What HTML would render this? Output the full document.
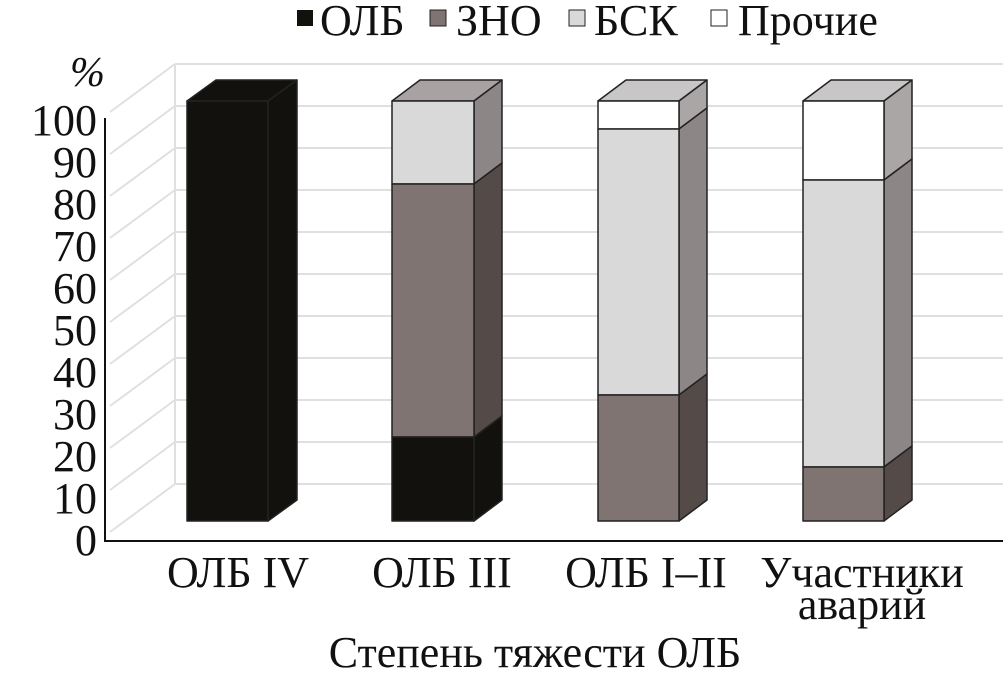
<!DOCTYPE html>
<html><head><meta charset="utf-8"><style>
body{margin:0;background:#fff}
svg text{font-family:"Liberation Serif",serif;fill:#111}
</style></head><body>
<svg width="1003" height="677" viewBox="0 0 1003 677" xmlns="http://www.w3.org/2000/svg">
<g stroke="#e0e0e0" stroke-width="2">
<line x1="175" y1="64" x2="1003" y2="64"/><line x1="175" y1="106" x2="1003" y2="106"/>
<line x1="175" y1="148" x2="1003" y2="148"/><line x1="175" y1="190" x2="1003" y2="190"/>
<line x1="175" y1="232" x2="1003" y2="232"/><line x1="175" y1="274" x2="1003" y2="274"/>
<line x1="175" y1="316" x2="1003" y2="316"/><line x1="175" y1="358" x2="1003" y2="358"/>
<line x1="175" y1="400" x2="1003" y2="400"/><line x1="175" y1="442" x2="1003" y2="442"/>
<line x1="175" y1="484" x2="1003" y2="484"/>
<line x1="175" y1="64" x2="175" y2="484"/>
<line x1="110" y1="112" x2="175" y2="64"/><line x1="110" y1="154" x2="175" y2="106"/>
<line x1="110" y1="196" x2="175" y2="148"/><line x1="110" y1="238" x2="175" y2="190"/>
<line x1="110" y1="280" x2="175" y2="232"/><line x1="110" y1="322" x2="175" y2="274"/>
<line x1="110" y1="364" x2="175" y2="316"/><line x1="110" y1="406" x2="175" y2="358"/>
<line x1="110" y1="448" x2="175" y2="400"/><line x1="110" y1="490" x2="175" y2="442"/>
<line x1="110" y1="532" x2="175" y2="484"/>
</g>
<g stroke="#222" stroke-width="1.5" stroke-linejoin="round">
<polygon points="187,101 268,101 297,80 216,80" fill="#13110d"/>
<polygon points="268,101 297,80 297,500 268,521" fill="#13110d"/>
<rect x="187" y="101" width="81" height="420" fill="#13110d"/>
<polygon points="392,101 474,101 502,80 420,80" fill="#a8a2a2"/>
<polygon points="474,101 502,80 502,163 474,184" fill="#8c8686"/>
<polygon points="474,184 502,163 502,416 474,437" fill="#544b48"/>
<polygon points="474,437 502,416 502,500 474,521" fill="#13110d"/>
<rect x="392" y="101" width="82" height="83" fill="#d9d9d9"/>
<rect x="392" y="184" width="82" height="253" fill="#7f7471"/>
<rect x="392" y="437" width="82" height="84" fill="#13110d"/>
<polygon points="598,101 679,101 707,80 626,80" fill="#c8c6c6"/>
<polygon points="679,101 707,80 707,108 679,129" fill="#aaa6a6"/>
<polygon points="679,129 707,108 707,374 679,395" fill="#8c8686"/>
<polygon points="679,395 707,374 707,500 679,521" fill="#544b48"/>
<rect x="598" y="101" width="81" height="28" fill="#fff"/>
<rect x="598" y="129" width="81" height="266" fill="#d9d9d9"/>
<rect x="598" y="395" width="81" height="126" fill="#7f7471"/>
<polygon points="803,101 884,101 912,80 831,80" fill="#c8c6c6"/>
<polygon points="884,101 912,80 912,159 884,180" fill="#aaa6a6"/>
<polygon points="884,180 912,159 912,446 884,467" fill="#8c8686"/>
<polygon points="884,467 912,446 912,500 884,521" fill="#544b48"/>
<rect x="803" y="101" width="81" height="79" fill="#fff"/>
<rect x="803" y="180" width="81" height="287" fill="#d9d9d9"/>
<rect x="803" y="467" width="81" height="54" fill="#7f7471"/>
</g>
<polyline points="105,118 105,541 1003,541" fill="none" stroke="#111" stroke-width="2"/>
<g font-size="44" text-anchor="end">
<text x="97" y="135">100</text><text x="97" y="177">90</text><text x="97" y="219">80</text>
<text x="97" y="261">70</text><text x="97" y="303">60</text><text x="97" y="345">50</text>
<text x="97" y="387">40</text><text x="97" y="429">30</text><text x="97" y="471">20</text>
<text x="97" y="513">10</text><text x="97" y="555">0</text>
</g>
<text x="70" y="86" font-size="42" font-style="italic">%</text>
<g font-size="44" text-anchor="middle">
<text x="238" y="587">ОЛБ IV</text><text x="442" y="587">ОЛБ III</text>
<text x="646" y="587">ОЛБ I–II</text><text x="862" y="587">Участники</text>
<text x="862" y="619">аварий</text>
<text x="535" y="667">Степень тяжести ОЛБ</text>
</g>
<g font-size="44">
<rect x="297" y="10" width="16" height="16" fill="#13110d"/><text x="320" y="35">ОЛБ</text>
<rect x="430" y="10" width="16" height="16" fill="#7f7471" stroke="#222"/><text x="456" y="35">ЗНО</text>
<rect x="569" y="10" width="16" height="16" fill="#d9d9d9" stroke="#222"/><text x="594" y="35">БСК</text>
<rect x="711" y="10" width="16" height="16" fill="#fff" stroke="#222"/><text x="738" y="35">Прочие</text>
</g>
</svg>
</body></html>
